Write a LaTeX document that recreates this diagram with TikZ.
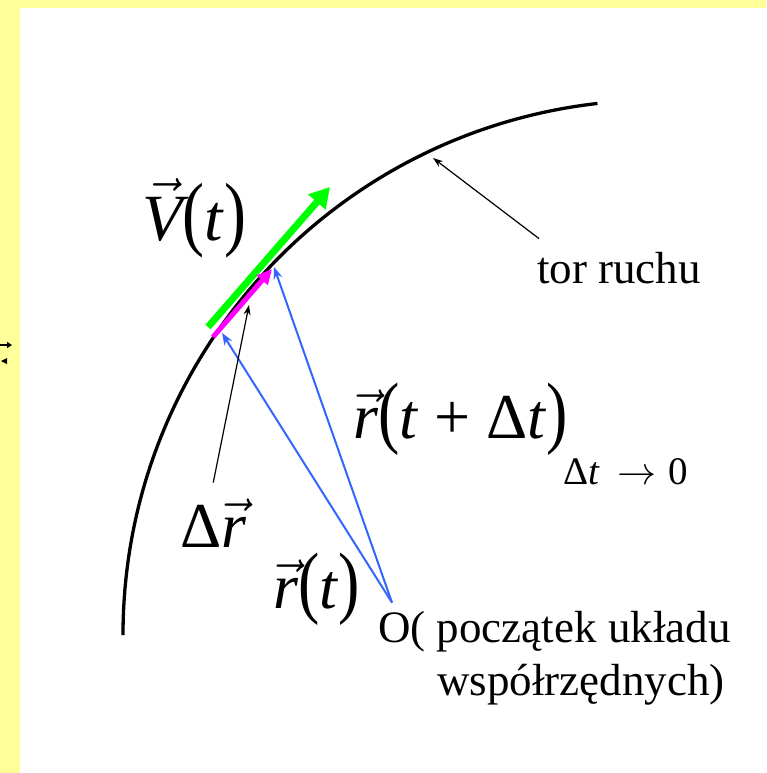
\RequirePackage{fix-cm}
\documentclass[tikz,border=0pt]{standalone}
\usepackage{fontspec}
\setmainfont{Liberation Serif}
\usetikzlibrary{arrows.meta,calc}
\definecolor{paper}{HTML}{FFFF99}
\definecolor{velgreen}{HTML}{00FF00}
\definecolor{dispink}{HTML}{FF00FF}
\definecolor{radblue}{HTML}{3366FF}
\newcommand{\lpar}{\scalebox{1}[1.25]{(}}
\newcommand{\rpar}{\scalebox{1}[1.25]{)}}
\newcommand{\vecit}[1]{$\vec{\textit{#1}}$}
\tikzset{torline/.style={draw=black,line width=3.3pt},
 radarrow/.style={-{Stealth[length=12pt,width=9pt]},draw=radblue,line width=2pt},
 velarrow/.style={-{Triangle[length=20pt,width=22pt]},draw=velgreen,line width=7pt},
 disparrow/.style={-{Triangle[length=15pt,width=14pt]},draw=dispink,line width=5pt},
 notearrow/.style={-{Stealth[length=10pt,width=7pt]},draw=black,line width=1.2pt},
 formula/.style={font=\fontsize{64}{64}\selectfont,inner sep=0pt,anchor=base west},
 caption/.style={font=\fontsize{45}{45}\selectfont,inner sep=0pt,anchor=base west}}

\begin{document}
\begin{tikzpicture}[x=1pt,y=1pt]
\useasboundingbox (0,0) rectangle (766,-773);
\fill[paper] (0,0) rectangle (766,-773);
\fill[white] (20,-8) rectangle (766,-773);
% cut-off glyph at the left edge
\draw[-{Triangle[length=5pt,width=6pt]},line width=1.3pt] (-2,-345)--(12,-345);
\fill (1,-361)--(7,-358)--(7,-364)--cycle;
% trajectory
\draw[torline] (123,-635) arc[start angle=180,end angle=96.5,radius=535];
\coordinate (a) at (222,-333);
\coordinate (b) at (274,-267);
\coordinate (q) at (433,-158);
\coordinate (m) at (249,-305);
\coordinate (g0) at (208,-327); \coordinate (g1) at (330,-187);
\coordinate (d0) at (213,-337); \coordinate (d1) at (272,-269);
% labels
\node[formula,font=\fontsize{66}{66}\selectfont] (v) at (142,-240) {\vecit{V}\lpar\textit{t}\rpar};
\node[formula] (rdt) at (353,-438) {\vecit{r}\lpar\textit{t} + Δ\textit{t}\rpar};
\node[formula,font=\fontsize{39}{39}\selectfont] (lim) at (563,-484) {Δ\textit{t}\hspace{18pt}$\rightarrow$\hspace{12pt}0};
\node[formula] (dr) at (180,-547) {Δ\vecit{r}};
\node[formula] (rt) at (273,-608) {\vecit{r}\lpar\textit{t}\rpar};
\node[caption] (tor) at (537,-283) {tor ruchu};
\node[caption] (O) at (378,-642) {O( początek układu};
\node[caption] (O2) at (437,-695) {współrzędnych)};
% vectors
\draw[velarrow] (g0)--(g1);
\draw[disparrow] (d0)--(d1);
\draw[radarrow] ([shift={(14pt,8pt)}]O.north west)--(a);
\draw[radarrow] ([shift={(14pt,8pt)}]O.north west)--(b);
\draw[notearrow] ([shift={(2pt,13pt)}]tor.north west)--(q);
\draw[notearrow] ([yshift=16pt]dr.north)--(m);
\end{tikzpicture}
\end{document}
